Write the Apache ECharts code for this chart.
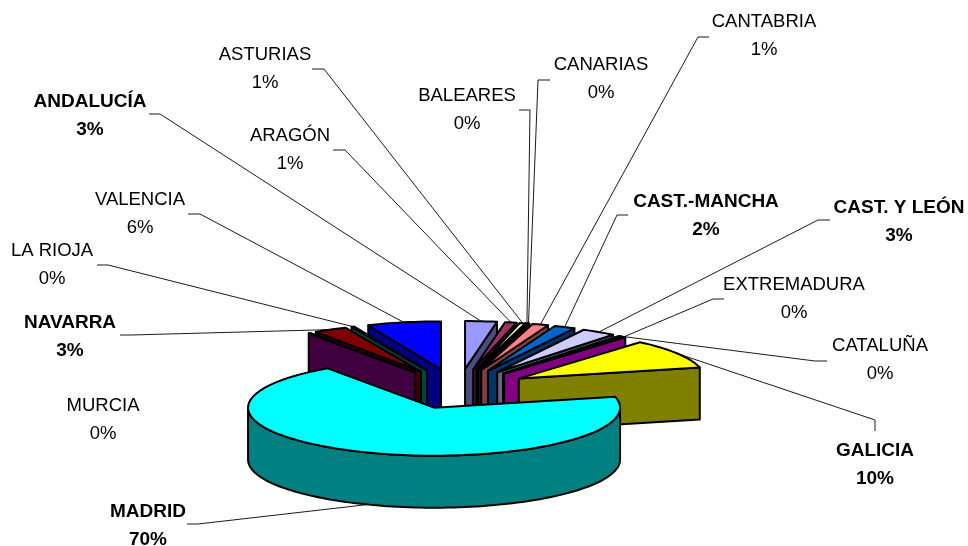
<!DOCTYPE html>
<html>
<head>
<meta charset="utf-8">
<style>
  html, body { margin: 0; padding: 0; background: #ffffff; }
  #chart { width: 968px; height: 546px; }
</style>
<script src="https://cdn.jsdelivr.net/npm/echarts@6/dist/echarts.min.js"></script>
</head>
<body>
<div id="chart"></div>
<script>
const regions = ['ANDALUCÍA', 'ARAGÓN', 'ASTURIAS', 'BALEARES', 'CANARIAS', 'CANTABRIA', 'CAST.-MANCHA', 'CAST. Y LEÓN',
  'CATALUÑA', 'EXTREMADURA', 'GALICIA', 'MADRID', 'MURCIA', 'NAVARRA', 'LA RIOJA', 'VALENCIA'];
const shares = [2.75, 1, 0.5, 0.05, 0.15, 1.4, 1.85, 3, 0.25, 0.35, 10, 69, 0.15, 2.9, 0.25, 6.4];
const shareLabels = ['3%', '1%', '1%', '0%', '0%', '1%', '2%', '3%', '0%', '0%', '10%', '70%', '0%', '3%', '0%', '6%'];
const boldRegions = ['ANDALUCÍA', 'CAST.-MANCHA', 'CAST. Y LEÓN', 'GALICIA', 'MADRID', 'NAVARRA'];

const topColors = ['#9999FF', '#993366', '#FFFFCC', '#CCFFFF', '#660066', '#FF8080', '#0066CC', '#CCCCFF',
  '#000080', '#FF00FF', '#FFFF00', '#00FFFF', '#800080', '#800000', '#008080', '#0000FF'];
const wallColors = ['#4C4C80', '#4D1933', '#808066', '#668080', '#330033', '#804040', '#003366', '#666680',
  '#000040', '#800080', '#808000', '#008080', '#400040', '#400000', '#004040', '#000080'];

// label centre x, y
const labelCenters = [[90, 116], [290, 150], [265, 69], [467, 110], [601, 79], [764, 36], [706, 216], [899, 222],
  [880, 360], [794, 299], [875, 465], [148, 526], [103, 420], [70, 337], [52, 265], [140, 214]];
// label end of each leader, the far end is taken from the slice rim
const leaderStarts = [
  [[149, 114], [160, 114]],
  [[333, 150], [345, 150]],
  [[312, 69], [324, 69]],
  [[519, 110], [530, 110]],
  [[550, 80], [538, 80]],
  [[709, 37], [698, 37]],
  [[628, 215], [617, 215]],
  [[830, 220], [818, 220]],
  [[827, 361], [815, 361]],
  [[724, 299], [713, 299]],
  [[875, 431], [875, 420]],
  [[187, 524], [198, 524]],
  null,
  [[120, 335], [131, 335]],
  [[97, 265], [108, 265]],
  [[188, 214], [200, 214]]
];

// pie projection
const CX = 459, CY = 389;
const EXPLODE_X = 70, EXPLODE_Y = 20;
const RX = 186, RY = 48, DEPTH = 52;
const BACK_LEFT_SHIFT = 4; // back left slices sit a bit further out in the original

const total = shares.reduce((a, b) => a + b, 0);
const slices = [];
let cum = 0;
shares.forEach(function (v) {
  const start = cum / total * Math.PI * 2;
  cum += v;
  const end = cum / total * Math.PI * 2;
  const mid = (start + end) / 2;
  let x = CX + EXPLODE_X * Math.sin(mid);
  if (Math.sin(mid) < 0 && Math.cos(mid) > 0) {
    x -= BACK_LEFT_SHIFT;
  }
  slices.push({
    start: start,
    end: end,
    mid: mid,
    apex: [x, CY - EXPLODE_Y * Math.cos(mid)],
    order: Math.round(1000 - Math.cos(mid) * 500)
  });
});

function rimPoint(apex, a) {
  return [apex[0] + RX * Math.sin(a), apex[1] - RY * Math.cos(a)];
}
function drop(p) {
  return [p[0], p[1] + DEPTH];
}
function arcPoints(apex, from, to) {
  const pts = [];
  const n = Math.max(2, Math.ceil((to - from) / 0.03));
  for (let i = 0; i <= n; i++) {
    pts.push(rimPoint(apex, from + (to - from) * i / n));
  }
  return pts;
}
function poly(points, fill, z2) {
  return {
    type: 'polygon',
    z2: z2,
    shape: { points: points },
    style: { fill: fill, stroke: '#000000', lineWidth: 2, lineJoin: 'round' }
  };
}

function renderSlice(params, api) {
  const i = api.value(0);
  const s = slices[i];
  const kids = [];

  // radial cut faces only show when they turn toward the viewer
  if (Math.sin(s.end) > 0) {
    const r = rimPoint(s.apex, s.end);
    kids.push(poly([s.apex, r, drop(r), drop(s.apex)], wallColors[i], s.order));
  }
  if (Math.sin(s.start) < 0) {
    const r = rimPoint(s.apex, s.start);
    kids.push(poly([s.apex, r, drop(r), drop(s.apex)], wallColors[i], s.order));
  }
  // outer wall, front half only
  const from = Math.max(s.start, Math.PI / 2);
  const to = Math.min(s.end, Math.PI * 1.5);
  if (to > from) {
    const arc = arcPoints(s.apex, from, to);
    kids.push(poly(arc.concat(arc.map(drop).reverse()), wallColors[i], s.order));
  }
  kids.push(poly([s.apex].concat(arcPoints(s.apex, s.start, s.end)), topColors[i], s.order + 1));

  // leader and label
  if (leaderStarts[i]) {
    let rim = rimPoint(s.apex, s.mid);
    if (Math.cos(s.mid) < 0) {
      rim = drop(rim);
    }
    kids.push({
      type: 'polyline',
      z2: 1,
      shape: { points: leaderStarts[i].concat([rim]) },
      style: { fill: null, stroke: '#1a1a1a', lineWidth: 1 }
    });
  }
  const bold = boldRegions.indexOf(regions[i]) >= 0;
  kids.push({
    type: 'text',
    z2: 3000,
    x: labelCenters[i][0],
    y: labelCenters[i][1],
    style: {
      text: regions[i] + '\n' + shareLabels[i],
      align: 'center',
      verticalAlign: 'middle',
      lineHeight: 28,
      fontFamily: '"Liberation Sans", Arial, sans-serif',
      fontSize: bold ? 19 : 18.5,
      fontWeight: bold ? 'bold' : 'normal',
      fill: '#000000'
    }
  });
  return { type: 'group', children: kids };
}

const chart = echarts.init(document.getElementById('chart'));
chart.setOption({
  backgroundColor: '#ffffff',
  animation: false,
  series: [
    {
      type: 'custom',
      coordinateSystem: 'none',
      silent: true,
      data: shares.map(function (v, i) { return [i, v]; }),
      renderItem: renderSlice
    }
  ]
});
</script>
</body>
</html>
